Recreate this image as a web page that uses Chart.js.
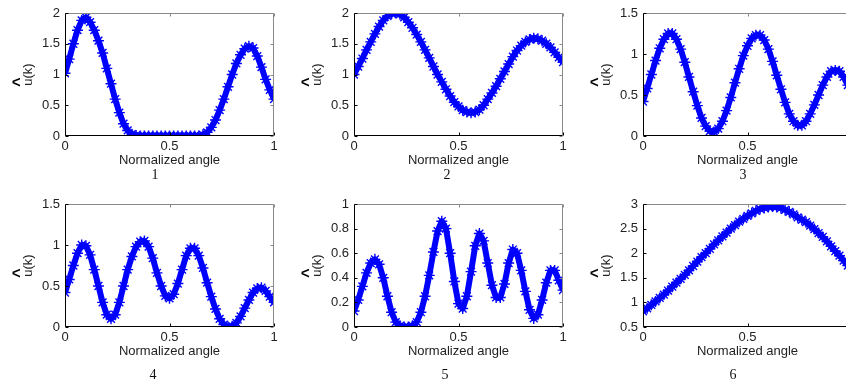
<!DOCTYPE html>
<html>
<head>
<meta charset="utf-8">
<script src="https://cdn.jsdelivr.net/npm/chart.js@4.4.1/dist/chart.umd.min.js"></script>
<style>
  html, body { margin: 0; padding: 0; background: #fff; }
  body { width: 846px; height: 385px; position: relative; overflow: hidden; }
  .panel { position: absolute; }
  .caption {
    position: absolute;
    font-family: 'Liberation Serif', 'Times New Roman', serif;
    font-size: 14px;
    color: #111;
    transform: translate(-50%, -50%);
  }
</style>
</head>
<body>
<script>
// normalized angle samples shared by every panel
const angle = [0, 0.02, 0.04, 0.06, 0.08, 0.1, 0.12, 0.14, 0.16, 0.18,
  0.2, 0.22, 0.24, 0.26, 0.28, 0.3, 0.32, 0.34, 0.36, 0.38,
  0.4, 0.42, 0.44, 0.46, 0.48, 0.5, 0.52, 0.54, 0.56, 0.58,
  0.6, 0.62, 0.64, 0.66, 0.68, 0.7, 0.72, 0.74, 0.76, 0.78,
  0.8, 0.82, 0.84, 0.86, 0.88, 0.9, 0.92, 0.94, 0.96, 0.98, 1];

// estimated |u(k)| for each case
const u1 = [1.02, 1.25, 1.5, 1.72, 1.88, 1.93, 1.85, 1.72, 1.55, 1.35,
  1.1, 0.85, 0.6, 0.38, 0.2, 0.09, 0.03, 0.01, 0, 0,
  0, 0, 0, 0, 0, 0, 0, 0, 0, 0,
  0, 0, 0, 0.02, 0.06, 0.14, 0.26, 0.42, 0.6, 0.8,
  1.0, 1.18, 1.32, 1.42, 1.46, 1.43, 1.3, 1.12, 0.92, 0.75, 0.6];
const u2 = [1.0, 1.13, 1.26, 1.4, 1.53, 1.66, 1.78, 1.88, 1.95, 1.99,
  2.0, 1.98, 1.93, 1.85, 1.76, 1.65, 1.53, 1.4, 1.27, 1.13,
  1.0, 0.88, 0.76, 0.65, 0.55, 0.48, 0.42, 0.39, 0.38, 0.39,
  0.43, 0.5, 0.6, 0.7, 0.81, 0.93, 1.05, 1.17, 1.29, 1.39,
  1.47, 1.53, 1.57, 1.59, 1.58, 1.55, 1.5, 1.44, 1.36, 1.28, 1.2];
const u3 = [0.42, 0.58, 0.75, 0.92, 1.07, 1.18, 1.25, 1.25, 1.18, 1.06,
  0.9, 0.72, 0.54, 0.37, 0.22, 0.12, 0.06, 0.05, 0.09, 0.18,
  0.31, 0.47, 0.65, 0.82, 0.98, 1.1, 1.19, 1.23, 1.23, 1.17,
  1.06, 0.91, 0.74, 0.57, 0.41, 0.27, 0.18, 0.13, 0.13, 0.18,
  0.27, 0.38, 0.5, 0.62, 0.72, 0.79, 0.8, 0.79, 0.72, 0.62, 0.5];
const u4 = [0.42, 0.58, 0.75, 0.9, 1.0, 0.99, 0.88, 0.7, 0.5, 0.3,
  0.15, 0.1, 0.15, 0.3, 0.5, 0.7, 0.86, 0.98, 1.04, 1.05,
  0.98, 0.84, 0.66, 0.5, 0.38, 0.35, 0.4, 0.53, 0.7, 0.87,
  0.96, 0.96, 0.87, 0.72, 0.54, 0.37, 0.22, 0.1, 0.03, 0.0,
  0.01, 0.05, 0.13, 0.23, 0.33, 0.42, 0.47, 0.48, 0.44, 0.37, 0.3];
const u5 = [0.13, 0.22, 0.33, 0.44, 0.52, 0.55, 0.51, 0.4, 0.25, 0.12,
  0.04, 0.01, 0, 0, 0.01, 0.04, 0.12, 0.25, 0.42, 0.61,
  0.78, 0.86, 0.8, 0.6, 0.37, 0.19, 0.15, 0.25, 0.45, 0.66,
  0.76, 0.7, 0.52, 0.34, 0.24, 0.24, 0.35, 0.52, 0.63, 0.6,
  0.46, 0.29, 0.14, 0.07, 0.1, 0.22, 0.36, 0.46, 0.46, 0.38, 0.3];
const u6 = [0.82, 0.88, 0.95, 1.02, 1.09, 1.16, 1.24, 1.32, 1.4, 1.48,
  1.56, 1.65, 1.74, 1.83, 1.92, 2.0, 2.09, 2.18, 2.26, 2.34,
  2.42, 2.5, 2.57, 2.64, 2.7, 2.76, 2.81, 2.86, 2.9, 2.92,
  2.94, 2.95, 2.94, 2.92, 2.88, 2.84, 2.79, 2.73, 2.68, 2.63,
  2.56, 2.49, 2.41, 2.33, 2.24, 2.14, 2.04, 1.95, 1.85, 1.75, 1.64];

const series = [u1, u2, u3, u4, u5, u6];
const yMin = [0, 0, 0, 0, 0, 0.5];
const yMax = [2, 2, 1.5, 1.5, 1, 3];
const yStep = [0.5, 0.5, 0.5, 0.5, 0.2, 0.5];
const xTicks = [0, 0.5, 1];
const captions = ['1', '2', '3', '4', '5', '6'];
const xTitle = 'Normalized angle';
const yTitle = 'u(k)';

// layout of the 2x3 grid (plot area corners)
const panelLeft = [65, 354, 643];
const panelTop = [13, 204];
const plotW = 209, plotH = 123;
const padL = 65, padT = 13, padR = 22, padB = 36;
const captionX = [155, 447, 743, 153, 445, 733];
const captionY = [175, 175, 175, 375, 375, 375];

const BLUE = '#0000ff';
const FONT = '"Liberation Sans", Arial, sans-serif';

// MATLAB style numbers: 2 not 2.0, 0.5 stays 0.5
const fmt = v => String(+Number(v).toFixed(2));

// box, inward ticks and axis titles the way MATLAB draws them
const matlabAxes = {
  id: 'matlabAxes',
  afterDraw(chart) {
    const { ctx, chartArea: a, scales: { x, y } } = chart;
    const L = Math.round(a.left) + 0.5, R = Math.round(a.right) - 0.5;
    const T = Math.round(a.top) + 0.5, B = Math.round(a.bottom) - 0.5;
    ctx.save();
    ctx.lineWidth = 1;

    ctx.strokeStyle = '#8a8a8a';
    ctx.beginPath();
    ctx.moveTo(L, T); ctx.lineTo(R, T); ctx.lineTo(R, B);
    x.ticks.forEach(t => {
      const px = Math.round(x.getPixelForValue(t.value)) + 0.5;
      ctx.moveTo(px, T); ctx.lineTo(px, T + 3);
    });
    y.ticks.forEach(t => {
      const py = Math.round(y.getPixelForValue(t.value)) + 0.5;
      ctx.moveTo(R, py); ctx.lineTo(R - 3, py);
    });
    ctx.stroke();

    ctx.strokeStyle = '#000';
    ctx.beginPath();
    ctx.moveTo(L, T); ctx.lineTo(L, B); ctx.lineTo(R, B);
    x.ticks.forEach(t => {
      const px = Math.round(x.getPixelForValue(t.value)) + 0.5;
      ctx.moveTo(px, B); ctx.lineTo(px, B - 3);
    });
    y.ticks.forEach(t => {
      const py = Math.round(y.getPixelForValue(t.value)) + 0.5;
      ctx.moveTo(L, py); ctx.lineTo(L + 3, py);
    });
    ctx.stroke();

    ctx.fillStyle = '#222';
    ctx.font = '13px ' + FONT;
    ctx.textAlign = 'center';
    ctx.textBaseline = 'middle';
    ctx.fillText(xTitle, (a.left + a.right) / 2, a.bottom + 24);

    // rotated u(k) with its hat
    ctx.translate(a.left - 37, (a.top + a.bottom) / 2);
    ctx.rotate(-Math.PI / 2);
    ctx.fillText(yTitle, 0, 0);
    const w = ctx.measureText(yTitle).width;
    const uw = ctx.measureText('u').width;
    ctx.fillStyle = '#000';
    ctx.font = 'bold 16px ' + FONT;
    ctx.textBaseline = 'alphabetic';
    ctx.fillText('^', -w / 2 + uw / 2, -4);
    ctx.restore();
  }
};

series.forEach((vals, i) => {
  const col = i % 3, row = Math.floor(i / 3);
  const box = document.createElement('div');
  box.className = 'panel';
  box.style.left = (panelLeft[col] - padL) + 'px';
  box.style.top = (panelTop[row] - padT) + 'px';
  const canvas = document.createElement('canvas');
  canvas.width = padL + plotW + padR;
  canvas.height = padT + plotH + padB;
  box.appendChild(canvas);
  document.body.appendChild(box);

  const cap = document.createElement('div');
  cap.className = 'caption';
  cap.style.left = captionX[i] + 'px';
  cap.style.top = captionY[i] + 'px';
  cap.textContent = captions[i];
  document.body.appendChild(cap);

  new Chart(canvas, {
    type: 'scatter',
    data: {
      datasets: [{
        data: angle.map((a, k) => ({ x: a, y: vals[k] })),
        showLine: true,
        borderColor: BLUE,
        borderWidth: 6,
        borderJoinStyle: 'round',
        pointStyle: 'star',
        pointRadius: 5.5,
        pointBorderColor: BLUE,
        pointBackgroundColor: BLUE,
        pointBorderWidth: 1.4,
        tension: 0
      }]
    },
    options: {
      responsive: false,
      animation: false,
      events: [],
      layout: { padding: { left: 0, top: padT, right: padR, bottom: 0 } },
      plugins: { legend: { display: false }, tooltip: { enabled: false } },
      scales: {
        x: {
          type: 'linear',
          min: 0,
          max: 1,
          grid: { display: false, drawTicks: false },
          border: { display: false },
          afterBuildTicks: s => { s.ticks = xTicks.map(v => ({ value: v })); },
          ticks: { padding: 3, color: '#222', maxRotation: 0, callback: fmt, font: { family: FONT, size: 13 } },
          afterFit: s => { s.height = padB; }
        },
        y: {
          type: 'linear',
          min: yMin[i],
          max: yMax[i],
          grid: { display: false, drawTicks: false },
          border: { display: false },
          ticks: { stepSize: yStep[i], padding: 5, color: '#222', callback: fmt, font: { family: FONT, size: 13 } },
          afterFit: s => { s.width = padL; }
        }
      }
    },
    plugins: [matlabAxes]
  });
});
</script>
</body>
</html>
